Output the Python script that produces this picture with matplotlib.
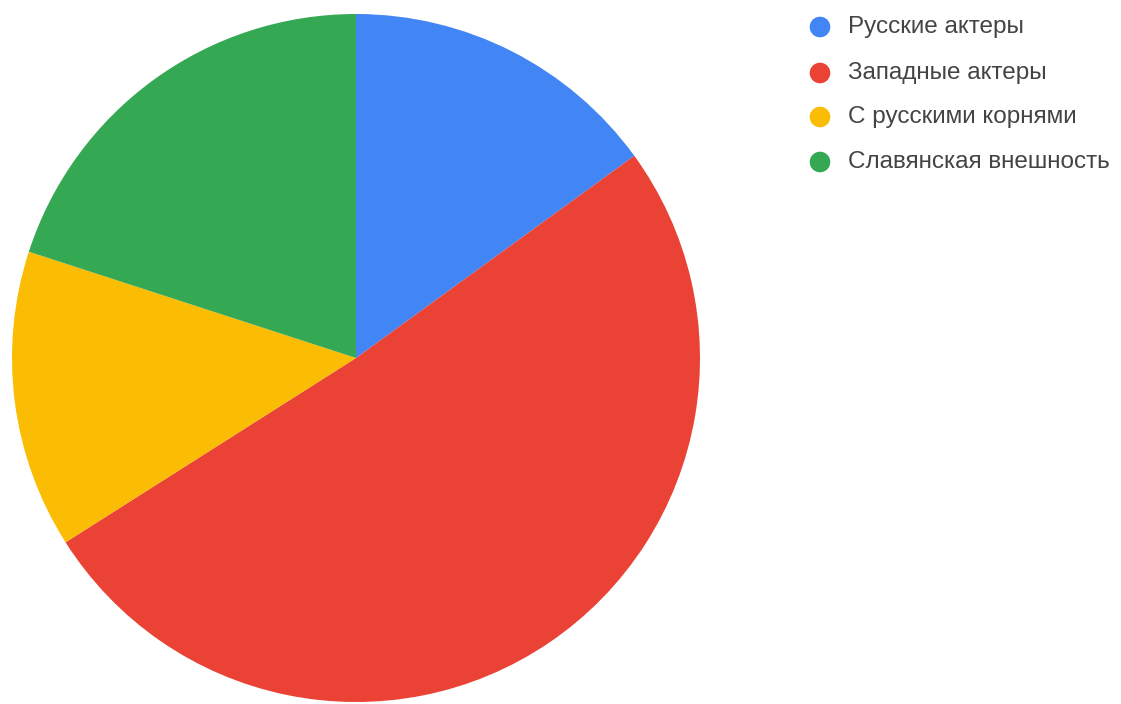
import matplotlib.pyplot as plt

# Slice data, clockwise from 12 o'clock
labels = ['Русские актеры', 'Западные актеры', 'С русскими корнями', 'Славянская внешность']
values = [15, 51, 14, 20]
colors = ['#4285F4', '#EA4335', '#FBBC04', '#34A853']

W, H = 1121, 704
fig = plt.figure(figsize=(W / 100, H / 100), dpi=100)

# Pie axes: centre (356, 358), radius 344 px
cx, cy, r = 356, 358, 344
ax = fig.add_axes([(cx - r) / W, (H - cy - r) / H, 2 * r / W, 2 * r / H])
ax.pie(values, colors=colors, startangle=90, counterclock=False, radius=1,
       wedgeprops=dict(linewidth=0))
ax.set_xlim(-1, 1)
ax.set_ylim(-1, 1)
ax.set_aspect('equal')
ax.axis('off')

# Legend drawn in pixel coordinates
lg = fig.add_axes([0, 0, 1, 1])
lg.set_xlim(0, W)
lg.set_ylim(H, 0)
lg.axis('off')
rows_y = [27, 73, 117, 162]
for lab, col, y in zip(labels, colors, rows_y):
    lg.scatter([820], [y], s=220, color=col, edgecolors='none')
    lg.text(848, y, lab, fontsize=17.5, color='#444444', va='center', ha='left',
            family='Liberation Sans')

fig.savefig('out.png', dpi=100)
